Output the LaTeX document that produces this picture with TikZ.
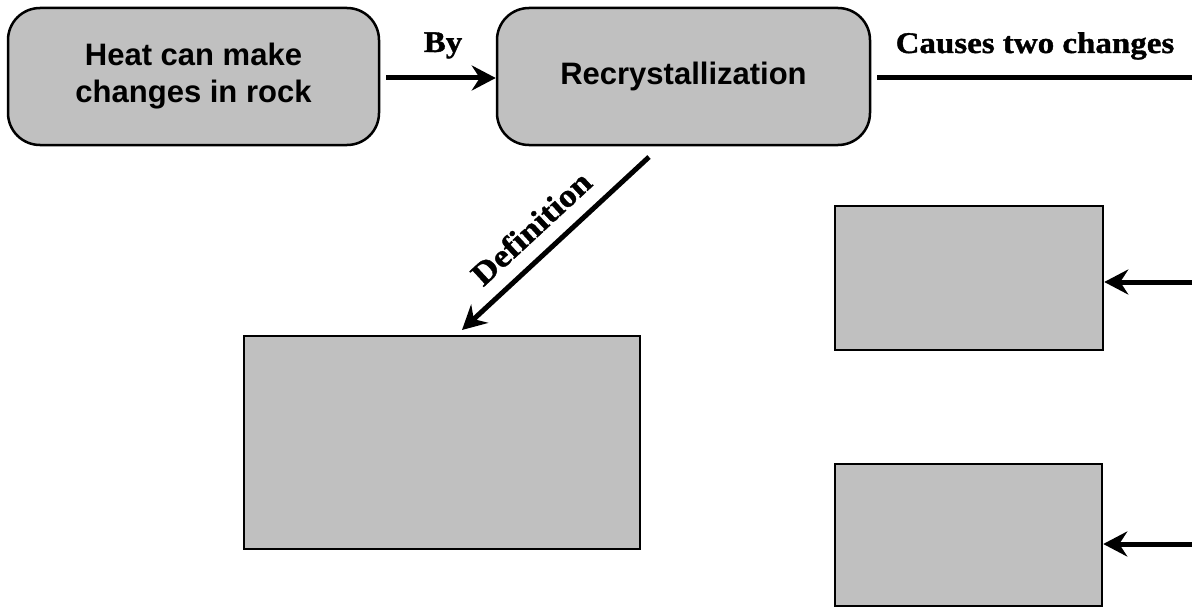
\documentclass[tikz,border=0pt]{standalone}
\usepackage{fontspec}
\setmainfont{Liberation Serif}
\newfontfamily\boxfont{Liberation Sans}
\newfontfamily\lblfont{Liberation Serif}[FakeStretch=1.1,FakeBold=1.2]
\usetikzlibrary{arrows.meta}
\definecolor{boxgray}{HTML}{C0C0C0}
\tikzset{
  roundbox/.style={draw=black, line width=2.5pt, fill=boxgray, rounded corners=32pt,
    inner sep=0pt, align=center, font=\boxfont\bfseries\fontsize{31}{37}\selectfont},
  blankbox/.style={draw=black, line width=2.5pt, fill=boxgray, inner sep=0pt},
  arr/.style={line width=5pt, -{Stealth[length=24pt,width=25pt,inset=8pt]}},
  plainline/.style={line width=5pt},
  lbl/.style={font=\lblfont\bfseries\fontsize{30}{34}\selectfont, inner sep=0pt}
}
\begin{document}
\begin{tikzpicture}[x=1pt,y=-1pt]
\useasboundingbox (0,0) rectangle (1192,610);
% boxes
\node[roundbox, minimum width=371pt, minimum height=137pt] (b1) at (193.5,76.5) {Heat can make\\changes in rock};
\node[roundbox, minimum width=373pt, minimum height=137pt] (b2) at (683.5,76.5) {Recrystallization};
\node[blankbox, minimum width=396pt, minimum height=213pt] (b3) at (442,442.5) {};
\node[blankbox, minimum width=268pt, minimum height=144pt] (b4) at (969,278) {};
\node[blankbox, minimum width=267pt, minimum height=142pt] (b5) at (968.5,535) {};
% free ends
\coordinate (r0) at (1192,78);
\coordinate (r4) at (1192,282);
\coordinate (r5) at (1192,544);
\coordinate (d1) at (649,157);
\coordinate (d2) at (462,330);
% connectors
\draw[arr, shorten <=6pt] (b1.east |- 0,78) -- (b2.west |- 0,78);
\draw[plainline, shorten <=6pt] (b2.east |- r0) -- (r0);
\draw[arr] (r4) -- (r4 -| b4.east);
\draw[arr] (r5) -- (r5 -| b5.east);
\draw[arr] (d1) -- (d2);
% labels
\node[lbl, anchor=base] (lby) at (443,52) {By};
\node[lbl, anchor=base] (lcause) at (1035,53) {Causes two changes};
\node[lbl, rotate=42.8, font=\lblfont\bfseries\fontsize{32}{36}\selectfont] (ldef) at (531,228) {Definition};
\end{tikzpicture}
\end{document}
